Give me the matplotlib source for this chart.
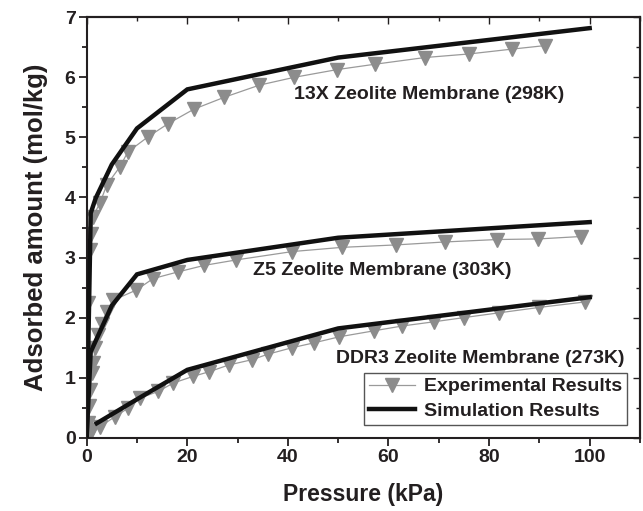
import numpy as np
import matplotlib
matplotlib.use("Agg")
import matplotlib.pyplot as plt
from matplotlib.ticker import MultipleLocator

# experimental isotherms (kPa, mol/kg)
p_13x_exp = [0.3, 0.6, 0.9, 1.2, 2.6, 4.0, 6.6, 8.2, 12.2, 16.2, 21.3, 27.4, 34.3,
             41.2, 49.8, 57.4, 67.2, 76.0, 84.5, 91.2]
q_13x_exp = [2.24, 3.12, 3.40, 3.68, 3.90, 4.21, 4.51, 4.76, 5.01, 5.23, 5.47, 5.67,
             5.87, 6.00, 6.13, 6.22, 6.33, 6.39, 6.47, 6.53]
p_z5_exp = [0.2, 0.4, 0.7, 1.0, 1.3, 1.7, 2.3, 3.0, 4.0, 5.3, 9.9, 13.2, 18.1, 23.4,
            29.7, 40.9, 50.8, 61.4, 71.3, 81.6, 89.8, 98.2]
q_z5_exp = [0.25, 0.52, 0.79, 1.07, 1.24, 1.49, 1.71, 1.90, 2.10, 2.29, 2.46, 2.65,
            2.76, 2.87, 2.96, 3.10, 3.17, 3.21, 3.26, 3.30, 3.31, 3.35]
p_ddr3_exp = [0.5, 1.0, 2.6, 5.6, 8.2, 10.6, 14.2, 17.2, 21.1, 24.4, 28.2, 32.9, 36.0,
              40.9, 45.2, 50.2, 57.1, 62.7, 69.0, 75.0, 82.0, 90.0, 99.0]
q_ddr3_exp = [0.04, 0.13, 0.18, 0.35, 0.49, 0.66, 0.77, 0.91, 1.02, 1.10, 1.21, 1.30,
              1.39, 1.50, 1.58, 1.68, 1.78, 1.86, 1.93, 2.00, 2.08, 2.17, 2.26]

# simulated isotherms
p_13x_sim = [0, 0.8, 1.8, 5, 10, 20, 50, 100]
q_13x_sim = [0, 3.74, 3.99, 4.55, 5.15, 5.80, 6.33, 6.82]
p_z5_sim = [0, 0.8, 5, 10, 20, 50, 100]
q_z5_sim = [0, 1.43, 2.20, 2.72, 2.96, 3.33, 3.59]
p_ddr3_sim = [2, 10, 20, 50, 100]
q_ddr3_sim = [0.24, 0.64, 1.13, 1.82, 2.34]

labels = ["13X Zeolite Membrane (298K)", "Z5 Zeolite Membrane (303K)",
          "DDR3 Zeolite Membrane (273K)"]

plt.rcParams["font.family"] = ["Liberation Sans", "DejaVu Sans"]
plt.rcParams["font.weight"] = "bold"
plt.rcParams["axes.labelweight"] = "bold"
txt = "#231f20"
grey = "#8c8c8c"

fig = plt.figure(figsize=(6.43, 5.11), dpi=100)
ax = fig.add_axes([0.1348, 0.1434, 0.8605, 0.8227])

exp_kw = dict(color="#9a9a9a", lw=0.9, marker="v", ms=10.5, mfc=grey, mec=grey, zorder=2)
sim_kw = dict(color="#111111", lw=3.2, solid_joinstyle="miter", zorder=3)

ax.plot(p_13x_exp, q_13x_exp, label="Experimental Results", **exp_kw)
ax.plot(p_z5_exp, q_z5_exp, **exp_kw)
ax.plot(p_ddr3_exp, q_ddr3_exp, **exp_kw)
ax.plot(p_13x_sim, q_13x_sim, label="Simulation Results", **sim_kw)
ax.plot(p_z5_sim, q_z5_sim, **sim_kw)
ax.plot(p_ddr3_sim, q_ddr3_sim, **sim_kw)

ax.text(41.3, 5.72, labels[0], fontsize=14, color=txt, va="center")
ax.text(33.1, 2.79, labels[1], fontsize=14, color=txt, va="center")
ax.text(49.5, 1.32, labels[2], fontsize=14, color=txt, va="center")

ax.set_xlim(0, 110)
ax.set_ylim(0, 7)
ax.xaxis.set_major_locator(MultipleLocator(20))
ax.xaxis.set_minor_locator(MultipleLocator(10))
ax.yaxis.set_major_locator(MultipleLocator(1))
ax.yaxis.set_minor_locator(MultipleLocator(0.5))
ax.tick_params(which="both", direction="out", width=1.3, colors=txt,
               labelsize=14, labelcolor=txt, pad=2.5)
ax.tick_params(which="major", length=5.5)
ax.tick_params(which="minor", length=3.5)
for lbl in ax.get_xticklabels() + ax.get_yticklabels():
    lbl.set_fontweight("bold")
for s in ax.spines.values():
    s.set_linewidth(1.5)
    s.set_color(txt)

# inward ticks on top and right, like the original
sx = ax.secondary_xaxis("top")
sy = ax.secondary_yaxis("right")
sx.xaxis.set_major_locator(MultipleLocator(20))
sx.xaxis.set_minor_locator(MultipleLocator(10))
sy.yaxis.set_major_locator(MultipleLocator(1))
sy.yaxis.set_minor_locator(MultipleLocator(0.5))
for sec in (sx, sy):
    sec.tick_params(which="both", direction="in", width=1.0, colors=txt,
                    labeltop=False, labelright=False)
    sec.tick_params(which="major", length=5)
    sec.tick_params(which="minor", length=3)
    for s in sec.spines.values():
        s.set_linewidth(1.5)
        s.set_color(txt)

ax.set_xlabel("Pressure (kPa)", fontsize=16.5, color=txt, labelpad=12)
ax.set_ylabel("Adsorbed amount (mol/kg)", fontsize=18.5, color=txt, labelpad=12)

leg = ax.legend(loc="upper right", bbox_to_anchor=(0.9765, 0.154), borderaxespad=0,
                fontsize=14, fancybox=False, framealpha=1, edgecolor="#555555",
                handlelength=2.4, handletextpad=0.45, labelspacing=0.35,
                borderpad=0.25, labelcolor=txt)
leg.get_frame().set_linewidth(1.0)

fig.savefig("out.png", dpi=100)
